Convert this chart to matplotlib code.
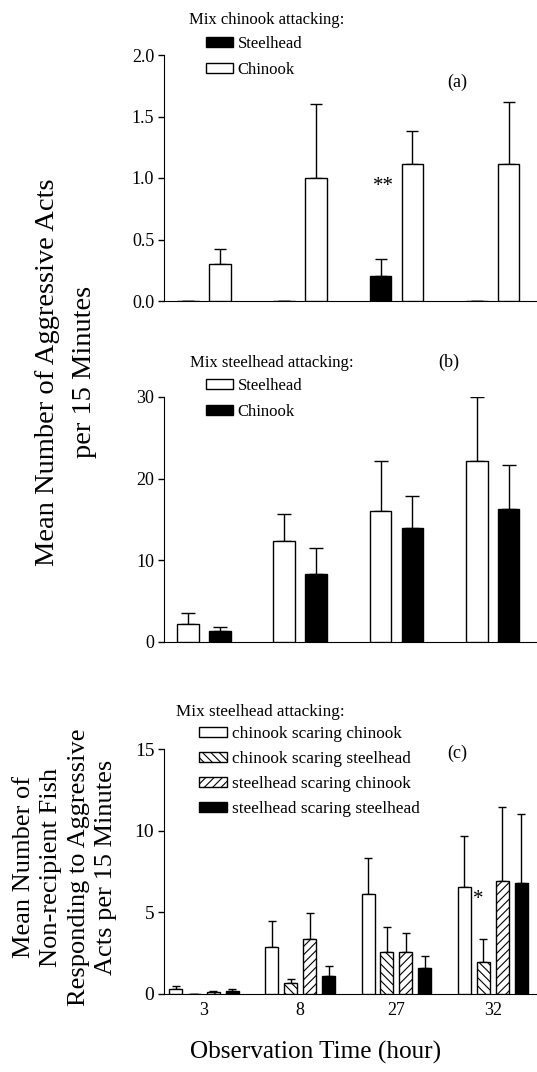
import matplotlib
matplotlib.use("Agg")
import matplotlib.pyplot as plt
from matplotlib.patches import Patch
import numpy as np

plt.rcParams['font.family'] = ['Liberation Serif', 'DejaVu Serif']
plt.rcParams['hatch.linewidth'] = 0.8

# observation times (hour)
times = ['3', '8', '27', '32']

# (a) mix chinook attacking
a_steel = [0.0, 0.0, 0.2, 0.0]
a_steel_se = [0.0, 0.0, 0.14, 0.0]
a_chin = [0.3, 1.0, 1.11, 1.11]
a_chin_se = [0.12, 0.6, 0.27, 0.51]

# (b) mix steelhead attacking
b_steel = [2.2, 12.4, 16.0, 22.2]
b_steel_se = [1.4, 3.3, 6.2, 7.8]
b_chin = [1.35, 8.3, 14.0, 16.3]
b_chin_se = [0.5, 3.2, 3.9, 5.4]

# (c) non-recipient fish responding
c_cc = [0.3, 2.9, 6.1, 6.55]
c_cc_se = [0.2, 1.6, 2.25, 3.1]
c_cs = [0.0, 0.65, 2.6, 1.95]
c_cs_se = [0.0, 0.25, 1.5, 1.4]
c_sc = [0.12, 3.35, 2.6, 6.9]
c_sc_se = [0.08, 1.6, 1.15, 4.55]
c_ss = [0.2, 1.1, 1.6, 6.8]
c_ss_se = [0.1, 0.6, 0.75, 4.2]

x = np.arange(len(times))

fig = plt.figure(figsize=(5.37, 10.72), dpi=100)
W, H = 537, 1072

def make_ax(top, bottom):
    ax = fig.add_axes([164 / W, 1 - bottom / H, (W - 164) / W, (bottom - top) / H])
    ax.spines['top'].set_visible(False)
    ax.spines['right'].set_visible(False)
    ax.set_xlim(-0.415, 3.46)
    ax.tick_params(axis='y', direction='out', length=4, width=1, labelsize=13, pad=3)
    return ax

def bars(ax, pos, vals, se, color, hatch=None, width=0.225, cap=4.5):
    ax.bar(pos, vals, width, color=color, edgecolor='black', linewidth=1.0, hatch=hatch, zorder=3)
    ax.errorbar(pos, vals, yerr=[np.zeros(len(se)), se], fmt='none', ecolor='black',
                elinewidth=1.0, capsize=cap, capthick=1.0, zorder=2)

def legend(ax, handles, top, left, size, spacing):
    ax.legend(handles=handles, loc='upper left', bbox_to_anchor=(left / W, 1 - top / H),
              bbox_transform=fig.transFigure, frameon=False, fontsize=size,
              handlelength=1.6, handleheight=0.5, handletextpad=0.3,
              labelspacing=spacing, borderpad=0, borderaxespad=0)

# ---- panel (a)
ax1 = make_ax(55, 301)
bars(ax1, x - 0.165, a_steel, a_steel_se, 'black')
bars(ax1, x + 0.165, a_chin, a_chin_se, 'white')
ax1.set_ylim(0, 2.0)
ax1.set_yticks([0, 0.5, 1.0, 1.5, 2.0])
ax1.set_yticklabels(['0.0', '0.5', '1.0', '1.5', '2.0'])
ax1.set_xticks([])
ax1.text(1.86, 0.93, '**', fontsize=15, ha='center', va='center')
ax1.text(0.786, 0.89, '(a)', transform=ax1.transAxes, fontsize=13, ha='center', va='center')
fig.text(189 / W, 1 - 20 / H, 'Mix chinook attacking:', fontsize=12, va='center')
legend(ax1, [Patch(facecolor='black', edgecolor='black', label='Steelhead'),
             Patch(facecolor='white', edgecolor='black', label='Chinook')],
       36, 206, 12, 0.6)

# ---- panel (b)
ax2 = make_ax(397, 642)
bars(ax2, x - 0.165, b_steel, b_steel_se, 'white', cap=5)
bars(ax2, x + 0.165, b_chin, b_chin_se, 'black', cap=5)
ax2.set_ylim(0, 30)
ax2.set_yticks([0, 10, 20, 30])
ax2.set_xticks([])
ax2.text(0.764, 1.143, '(b)', transform=ax2.transAxes, fontsize=13, ha='center', va='center')
fig.text(190 / W, 1 - 363 / H, 'Mix steelhead attacking:', fontsize=12, va='center')
legend(ax2, [Patch(facecolor='white', edgecolor='black', label='Steelhead'),
             Patch(facecolor='black', edgecolor='black', label='Chinook')],
       378, 206, 12, 0.6)

fig.text(66 / W, 1 - 372 / H, 'Mean Number of Aggressive Acts\nper 15 Minutes',
         rotation=90, fontsize=20.5, ha='center', va='center', linespacing=1.6)

# ---- panel (c)
ax3 = make_ax(749, 994)
step = 0.197
w3 = 0.135
bars(ax3, x - 1.5 * step, c_cc, c_cc_se, 'white', width=w3, cap=3)
bars(ax3, x - 0.5 * step, c_cs, c_cs_se, 'white', hatch='\\\\\\\\', width=w3, cap=3)
bars(ax3, x + 0.5 * step, c_sc, c_sc_se, 'white', hatch='////', width=w3, cap=3)
bars(ax3, x + 1.5 * step, c_ss, c_ss_se, 'black', width=w3, cap=3)
ax3.set_ylim(0, 15)
ax3.set_yticks([0, 5, 10, 15])
ax3.tick_params(axis='y', labelsize=14)
ax3.set_xticks(x)
ax3.set_xticklabels(times, fontsize=13)
ax3.tick_params(axis='x', length=0, pad=6)
ax3.text(2.85, 5.8, '*', fontsize=15, ha='center', va='center')
ax3.text(0.786, 0.984, '(c)', transform=ax3.transAxes, fontsize=13, ha='center', va='center')
fig.text(176 / W, 1 - 712 / H, 'Mix steelhead attacking:', fontsize=12.3, va='center')
legend(ax3, [Patch(facecolor='white', edgecolor='black', label='chinook scaring chinook'),
             Patch(facecolor='white', edgecolor='black', hatch='\\\\\\\\', label='chinook scaring steelhead'),
             Patch(facecolor='white', edgecolor='black', hatch='////', label='steelhead scaring chinook'),
             Patch(facecolor='black', edgecolor='black', label='steelhead scaring steelhead')],
       726, 199, 12.4, 0.53)

fig.text(316 / W, 1 - 1052 / H, 'Observation Time (hour)', fontsize=18.2, ha='center', va='center')

fig.text(65 / W, 1 - 867 / H,
         'Mean Number of\nNon-recipient Fish\nResponding to Aggressive\nActs per 15 Minutes',
         rotation=90, fontsize=19, ha='center', va='center', linespacing=1.3)

fig.savefig('out.png', dpi=100)
